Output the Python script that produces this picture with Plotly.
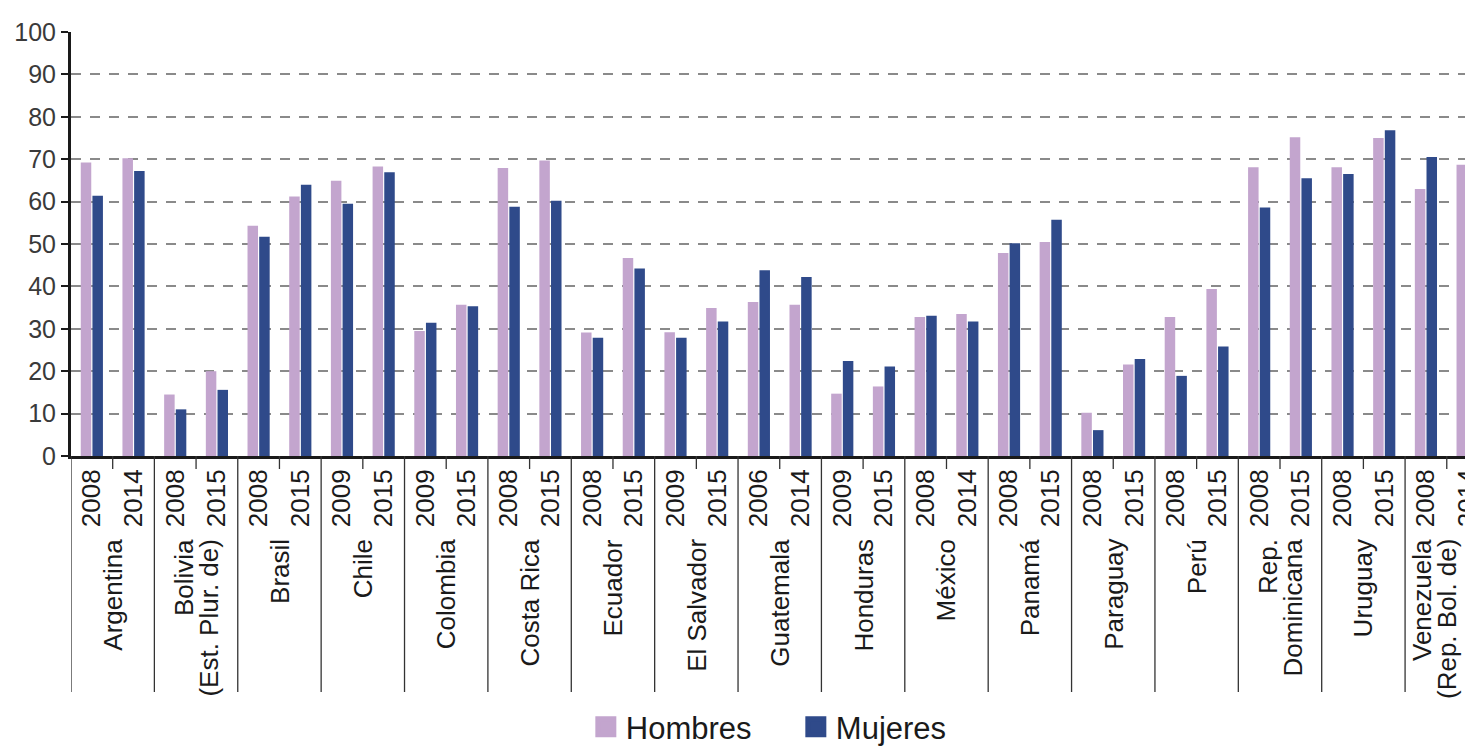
import plotly.graph_objects as go

# ---- data ----
countries = [
    "Argentina", "Bolivia<br>(Est. Plur. de)", "Brasil", "Chile", "Colombia",
    "Costa Rica", "Ecuador", "El Salvador", "Guatemala", "Honduras", "México",
    "Panamá", "Paraguay", "Perú", "Rep.<br>Dominicana", "Uruguay",
    "Venezuela<br>(Rep. Bol. de)",
]
years = [
    "2008", "2014", "2008", "2015", "2008", "2015", "2009", "2015", "2009", "2015",
    "2008", "2015", "2008", "2015", "2009", "2015", "2006", "2014", "2009", "2015",
    "2008", "2014", "2008", "2015", "2008", "2015", "2008", "2015", "2008", "2015",
    "2008", "2015", "2008", "2014",
]
hombres = [
    69.2, 70.2, 14.5, 20.0, 54.3, 61.2, 64.9, 68.3, 29.5, 35.7,
    67.9, 69.7, 29.1, 46.7, 29.2, 34.9, 36.3, 35.7, 14.7, 16.4,
    32.8, 33.5, 47.9, 50.5, 10.2, 21.6, 32.8, 39.4, 68.1, 75.2,
    68.1, 75.0, 63.0, 68.7,
]
mujeres = [
    61.4, 67.2, 11.0, 15.6, 51.7, 64.0, 59.5, 66.9, 31.4, 35.3,
    58.8, 60.2, 27.9, 44.2, 27.9, 31.7, 43.8, 42.2, 22.4, 21.1,
    33.1, 31.7, 50.2, 55.7, 6.1, 22.9, 18.9, 25.8, 58.6, 65.5,
    66.5, 76.8, 70.5, 77.9,
]
series_names = ["Hombres", "Mujeres"]
colors = ["#C3A5CE", "#2F4A8A"]

# ---- layout constants (page has an 8px body margin) ----
PAGE_OFF = 8
W, H = 1473 - PAGE_OFF, 746 - PAGE_OFF
ML, MT = 71 - PAGE_OFF, 32 - PAGE_OFF
plot_h = 424
MB = H - MT - plot_h
slot_px = 41.69
plot_w = W - ML
pos = list(range(len(years)))
x_max = -0.5 + plot_w / slot_px

FONT = "Liberation Sans, Arial, sans-serif"

fig = go.Figure()
for name, vals, col in zip(series_names, [hombres, mujeres], colors):
    fig.add_trace(go.Bar(
        x=pos, y=vals, name=name, marker=dict(color=col, line=dict(width=0)),
        legendgroup=name, showlegend=False,
        hovertemplate=name + ": %{y}<extra></extra>",
    ))
# legend entries (larger swatches)
for name, col in zip(series_names, colors):
    fig.add_trace(go.Scatter(
        x=[None], y=[None], mode="markers", name=name, legendgroup=name,
        marker=dict(symbol="square", size=16, color=col, line=dict(width=5, color=col)),
    ))

def py(px_below):
    return -px_below / plot_h

shapes = []
# country dividers
for i in range(len(countries) + 1):
    shapes.append(dict(type="line", xref="x", yref="paper",
                       x0=2 * i - 0.5, x1=2 * i - 0.5, y0=0, y1=py(236),
                       line=dict(color="#333333", width=1.3)))
# small ticks between the two years of a country
for i in range(len(countries)):
    shapes.append(dict(type="line", xref="x", yref="paper",
                       x0=2 * i + 0.5, x1=2 * i + 0.5, y0=0, y1=py(13),
                       line=dict(color="#333333", width=1.3)))

LINE_SP = 25
annotations = []
for i, c in enumerate(countries):
    lines = c.split("<br>")
    n = len(lines)
    center_px = ML + (2 * i + 1) * slot_px
    right_px = center_px + (n - 1) / 2 * LINE_SP + 14
    adjust = min(0, (W - 12) - right_px)
    for k, ln in enumerate(lines):
        annotations.append(dict(
            xref="x", yref="paper", x=2 * i + 0.5, y=py(81),
            text=ln, showarrow=False, textangle=-90,
            xanchor="center", yanchor="top",
            xshift=(k - (n - 1) / 2) * LINE_SP + adjust,
            font=dict(family=FONT, size=26, color="#1a1a1a"),
        ))

fig.update_layout(
    width=W, height=H,
    margin=dict(l=ML, r=0, t=MT, b=MB, pad=0, autoexpand=False),
    paper_bgcolor="white", plot_bgcolor="white",
    barmode="group", bargap=0.44, bargroupgap=0.1,
    font=dict(family=FONT, color="#222222"),
    shapes=shapes, annotations=annotations,
    legend=dict(
        orientation="h", x=0.517, xanchor="center", y=py(271), yanchor="middle",
        font=dict(family=FONT, size=31, color="#1a1a1a"),
        entrywidth=165, entrywidthmode="pixels",
        bgcolor="rgba(0,0,0,0)",
    ),
    xaxis=dict(
        range=[-0.5, x_max], tickmode="array", tickvals=pos, ticktext=years,
        tickangle=-90, tickfont=dict(family=FONT, size=26, color="#1a1a1a"),
        ticks="", showgrid=False, zeroline=False, automargin=False,
        ticklabeloverflow="allow",
        showline=True, linecolor="#1a1a1a", linewidth=3,
    ),
    yaxis=dict(
        range=[0, 100], tickmode="array", tickvals=list(range(0, 101, 10)),
        tickfont=dict(family=FONT, size=25, color="#3a3a3a"),
        ticks="outside", ticklen=7, tickwidth=2, tickcolor="#1a1a1a",
        showgrid=True, gridcolor="#8a8a8a", gridwidth=1.8, griddash="10px,9px",
        zeroline=False, showline=True, linecolor="#1a1a1a", linewidth=3,
        automargin=False,
    ),
)

fig.write_html("out.html")
